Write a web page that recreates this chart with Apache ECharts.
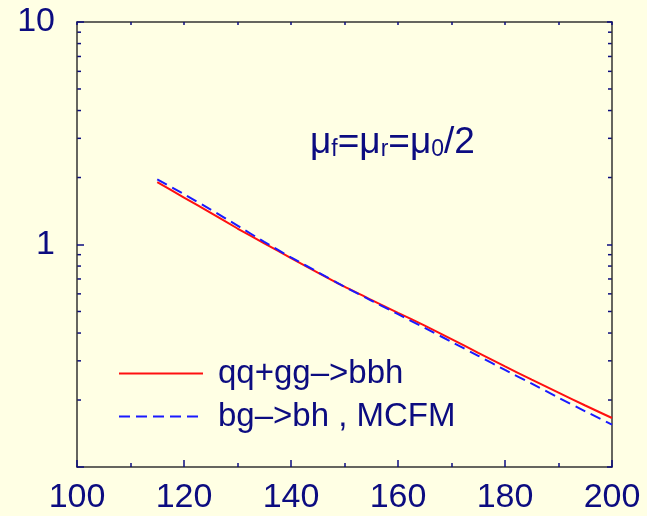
<!DOCTYPE html>
<html>
<head>
<meta charset="utf-8">
<style>
  html, body { margin: 0; padding: 0; background: #ffffe4; }
  #chart { width: 647px; height: 516px; }
</style>
<script src="https://cdn.jsdelivr.net/npm/echarts@6/dist/echarts.min.js"></script>
</head>
<body>
<div id="chart"></div>
<script>
// Higgs mass (GeV) sample points
const massPoints = [115, 120, 125, 130, 135, 140, 145, 150, 155, 160, 165, 170, 175, 180, 185, 190, 195, 200];
// qq+gg -> bbh cross section
const qqggBbh = [1.905, 1.626, 1.387, 1.180, 1.012, 0.869, 0.748, 0.646, 0.564, 0.493, 0.432, 0.376, 0.326, 0.283, 0.247, 0.216, 0.189, 0.166];
// bg -> bh (MCFM) cross section
const bgBh = [1.963, 1.683, 1.436, 1.216, 1.028, 0.875, 0.752, 0.646, 0.560, 0.486, 0.422, 0.365, 0.316, 0.273, 0.237, 0.205, 0.178, 0.155];
// axis ranges and labels
const xTicks = [100, 120, 140, 160, 180, 200];
const yRange = [0.1, 10];
const yMinorValues = [0.2, 0.3, 0.4, 0.5, 0.6, 0.7, 0.8, 0.9, 2, 3, 4, 5, 6, 7, 8, 9];
const seriesNames = ['qq+gg\u2013>bbh', 'bg\u2013>bh , MCFM'];

const NAVY = '#0c0c80';
const AXIS = '#333333';
const FONT = '"Liberation Sans", Arial, sans-serif';

const chart = echarts.init(document.getElementById('chart'), null, { renderer: 'canvas' });

const pairs = ys => massPoints.map((x, i) => [x, ys[i]]);

const xCommon = {
  type: 'value',
  min: xTicks[0],
  max: xTicks[xTicks.length - 1],
  interval: 20,
  splitLine: { show: false },
  axisLine: { show: true, onZero: false, lineStyle: { color: AXIS, width: 1.5 } }
};
const yCommon = {
  type: 'log',
  logBase: 10,
  min: yRange[0],
  max: yRange[1],
  splitLine: { show: false },
  axisLine: { show: true, onZero: false, lineStyle: { color: AXIS, width: 1.5 } }
};

chart.setOption({
  backgroundColor: '#ffffe4',
  animation: false,
  grid: { left: 77, right: 35, top: 22, bottom: 49, containLabel: false },
  xAxis: [
    Object.assign({}, xCommon, {
      position: 'bottom',
      axisTick: { show: true, inside: true, length: 7, lineStyle: { color: NAVY, width: 1.5 } },
      minorTick: { show: true, splitNumber: 2, length: 4, lineStyle: { color: NAVY, width: 1.5 } },
      axisLabel: { color: NAVY, fontSize: 34, fontFamily: FONT, margin: 14 }
    }),
    Object.assign({}, xCommon, {
      position: 'top',
      axisTick: { show: true, inside: true, length: 3, lineStyle: { color: NAVY, width: 1.5 } },
      minorTick: { show: true, splitNumber: 2, length: 3, lineStyle: { color: NAVY, width: 1.5 } },
      axisLabel: { show: false }
    })
  ],
  yAxis: [
    Object.assign({}, yCommon, {
      position: 'left',
      axisTick: { show: true, inside: true, length: 7, lineStyle: { color: NAVY, width: 1.5 } },
      axisLabel: {
        color: NAVY, fontSize: 34, fontFamily: FONT, margin: 22,
        formatter: v => (v < 0.5 ? '' : String(v))
      }
    }),
    Object.assign({}, yCommon, {
      position: 'right',
      axisTick: { show: true, inside: true, length: 5, lineStyle: { color: NAVY, width: 1.5 } },
      axisLabel: { show: false }
    })
  ],
  legend: {
    orient: 'vertical',
    left: 113,
    top: 352,
    itemWidth: 84,
    itemHeight: 14,
    itemGap: 10,
    itemStyle: { opacity: 0 },
    textStyle: { color: NAVY, fontSize: 33, fontFamily: FONT, padding: [0, 0, 0, 10] },
    data: seriesNames
  },
  title: {
    left: 305,
    top: 116,
    text: '{m|\u03bc}{s|f}{m|=\u03bc}{s|r}{m|=\u03bc}{s|0}{m|/2}',
    textStyle: {
      rich: {
        m: { color: NAVY, fontSize: 37, fontWeight: 'normal', fontFamily: FONT, lineHeight: 40, verticalAlign: 'bottom' },
        s: { color: NAVY, fontSize: 23, fontWeight: 'normal', fontFamily: FONT, lineHeight: 40, verticalAlign: 'bottom', padding: [10, 0, 0, 0] }
      }
    }
  },
  series: [
    {
      name: seriesNames[0],
      type: 'line',
      xAxisIndex: 0,
      yAxisIndex: 0,
      data: pairs(qqggBbh),
      showSymbol: false,
      symbol: 'none',
      smooth: 0.2,
      lineStyle: { color: '#ff1010', width: 2 },
      itemStyle: { color: '#ff1010' }
    },
    {
      name: seriesNames[1],
      type: 'line',
      xAxisIndex: 0,
      yAxisIndex: 0,
      data: pairs(bgBh),
      showSymbol: false,
      symbol: 'none',
      smooth: 0.2,
      lineStyle: { color: '#1a1aff', width: 2, type: [11, 6] },
      itemStyle: { color: '#1a1aff' }
    }
  ]
});

// Log-axis minor ticks at 2..9 of each decade, placed through the axis scales
const xLeft = chart.convertToPixel({ xAxisIndex: 0 }, xTicks[0]);
const xRight = chart.convertToPixel({ xAxisIndex: 0 }, xTicks[xTicks.length - 1]);
const minorTicks = [];
yMinorValues.forEach(v => {
  const py = chart.convertToPixel({ yAxisIndex: 0 }, v);
  minorTicks.push({
    type: 'line', silent: true,
    shape: { x1: xLeft, y1: py, x2: xLeft + 4, y2: py },
    style: { stroke: NAVY, lineWidth: 1.5 }
  });
  minorTicks.push({
    type: 'line', silent: true,
    shape: { x1: xRight, y1: py, x2: xRight - 4, y2: py },
    style: { stroke: NAVY, lineWidth: 1.5 }
  });
});
chart.setOption({ graphic: minorTicks });
</script>
</body>
</html>
